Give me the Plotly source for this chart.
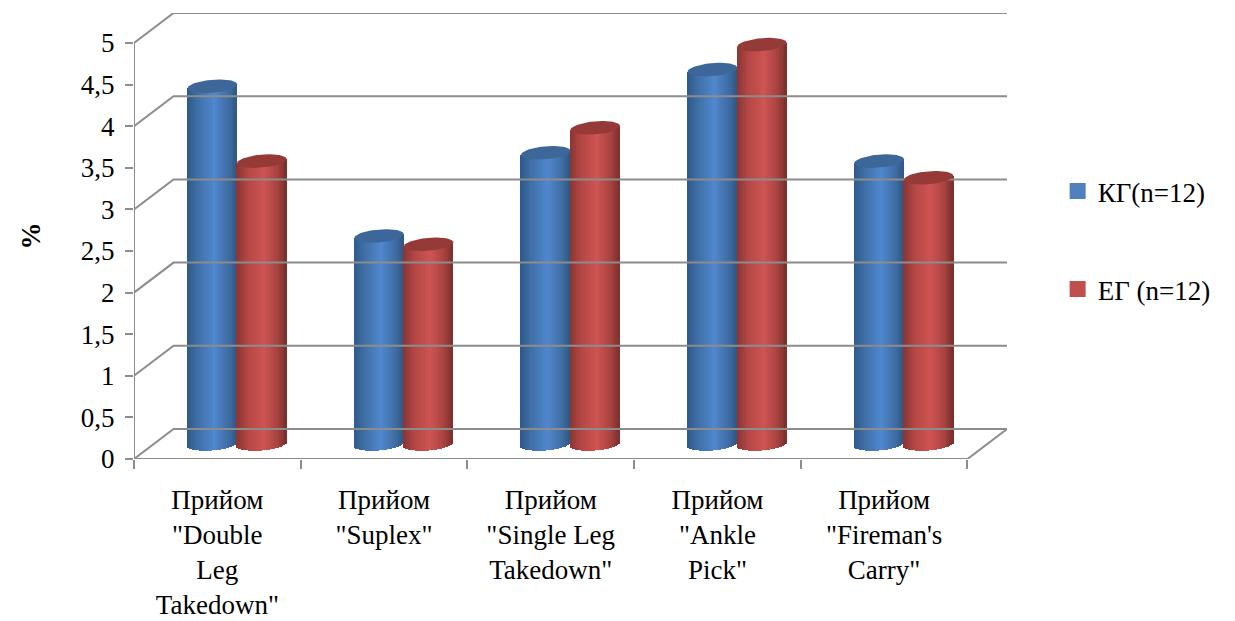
import numpy as np
import plotly.graph_objects as go

# Chart values
categories = [
    'Прийом<br>"Double<br>Leg<br>Takedown"',
    'Прийом<br>"Suplex"',
    'Прийом<br>"Single Leg<br>Takedown"',
    'Прийом<br>"Ankle<br>Pick"',
    'Прийом<br>"Fireman\'s<br>Carry"',
]
kg_values = [4.3, 2.5, 3.5, 4.5, 3.4]
eg_values = [3.4, 2.4, 3.8, 4.8, 3.2]
y_ticks = [0, 0.5, 1, 1.5, 2, 2.5, 3, 3.5, 4, 4.5, 5]
y_tick_labels = ["0", "0,5", "1", "1,5", "2", "2,5", "3", "3,5", "4", "4,5", "5"]

FONT = "Liberation Serif, Times New Roman, serif"
GRID = "#8c8c8c"

# Oblique projection of the chart box, in axis units
DEPTH_X = 0.2372
DEPTH_Y = 0.3606
BAR_WIDTH = 0.297
CAP_B = 0.078      # vertical semi-axis of the cylinder ellipse
CAP_SKEW = 0.024   # tilt of the ellipse

BLUE_STOPS = [(-1, "#2d5a8a"), (-0.55, "#4170a8"), (0.1, "#5088ce"), (0.7, "#3f6ca2"), (1, "#2e5884")]
RED_STOPS = [(-1, "#8a3634"), (-0.5, "#b64846"), (0.1, "#ce5553"), (0.65, "#a84341"), (1, "#7a2f2d")]


def shade(stops, u):
    pos = [s[0] for s in stops]
    rgb = np.array([[int(s[1][i:i + 2], 16) for i in (1, 3, 5)] for s in stops])
    return "rgb(%d,%d,%d)" % tuple(np.interp(u, pos, rgb[:, k]) for k in range(3))


def cylinder(fig, center, value, stops, cap_color):
    """Draw one cylinder: shaded side as narrow bars, then the top ellipse."""
    cx = center + DEPTH_X / 2
    a = BAR_WIDTH / 2
    n = 30
    edges = np.linspace(-1, 1, n + 1)
    mids = (edges[:-1] + edges[1:]) / 2
    floor_y = DEPTH_Y / 2
    top_y = value + DEPTH_Y / 2
    base = floor_y - CAP_B * np.sqrt(1 - mids ** 2) + CAP_SKEW * mids
    top = top_y + CAP_SKEW * mids
    fig.add_trace(go.Bar(
        x=cx + mids * a,
        y=top - base,
        base=base,
        width=[2 * a / n * 1.15] * n,
        marker=dict(color=[shade(stops, u) for u in mids], line=dict(width=0)),
        showlegend=False,
        hoverinfo="skip",
    ))
    t = np.linspace(0, 2 * np.pi, 73)
    fig.add_trace(go.Scatter(
        x=cx + a * np.cos(t),
        y=top_y + CAP_B * np.sin(t) + CAP_SKEW * np.cos(t),
        mode="lines",
        fill="toself",
        fillcolor=cap_color,
        line=dict(width=0, color=cap_color),
        showlegend=False,
        hoverinfo="skip",
    ))


fig = go.Figure()

# Box: left wall diagonals, back wall lines, floor edges and the value axis
n_cat = len(categories)
wall_x, wall_y = [0, 0, None], [0, y_ticks[-1], None]
for v in y_ticks[::2]:
    wall_x += [0, DEPTH_X, n_cat + DEPTH_X, None]
    wall_y += [v, v + DEPTH_Y, v + DEPTH_Y, None]
wall_x += [0, n_cat, n_cat + DEPTH_X]
wall_y += [0, 0, DEPTH_Y]
fig.add_trace(go.Scatter(
    x=wall_x, y=wall_y, mode="lines",
    line=dict(color=GRID, width=2),
    showlegend=False, hoverinfo="skip", cliponaxis=False,
))

for i in range(n_cat):
    cylinder(fig, i + 0.5 - BAR_WIDTH / 2, kg_values[i], BLUE_STOPS, "#3c6798")
    cylinder(fig, i + 0.5 + BAR_WIDTH / 2, eg_values[i], RED_STOPS, "#963a38")

# Legend entries
for name, color in (("КГ(n=12)", "#4f81bd"), ("ЕГ (n=12)", "#c0504d")):
    fig.add_trace(go.Scatter(
        x=[None], y=[None], mode="markers", name=name, legendgroup=name,
        marker=dict(symbol="square", size=16, color=color, line=dict(width=0)),
    ))

fig.update_layout(
    width=1235,
    height=621,
    margin=dict(l=133.5, r=228.3, t=13, b=162, autoexpand=False),
    paper_bgcolor="white",
    plot_bgcolor="white",
    barmode="overlay",
    bargap=0,
    font=dict(family=FONT, size=27, color="black"),
    legend=dict(
        x=1.058, y=0.49, xanchor="left", yanchor="middle",
        tracegroupgap=60, font=dict(family=FONT, size=27, color="black"),
        itemwidth=30, bgcolor="rgba(0,0,0,0)",
    ),
    xaxis=dict(
        range=[0, n_cat + DEPTH_X],
        tickmode="array",
        tickvals=[i + 0.5 for i in range(n_cat)],
        ticktext=categories,
        ticks="",
        ticklabelstandoff=22,
        showgrid=False,
        zeroline=False,
        showline=False,
        minor=dict(
            tickmode="array", tickvals=list(range(n_cat + 1)),
            ticks="outside", ticklen=9, tickwidth=2, tickcolor=GRID, showgrid=False,
        ),
        tickfont=dict(family=FONT, size=27, color="black"),
    ),
    yaxis=dict(
        range=[0, y_ticks[-1] + DEPTH_Y],
        tickmode="array",
        tickvals=y_ticks,
        ticktext=y_tick_labels,
        ticks="outside",
        ticklen=8,
        tickwidth=2,
        tickcolor=GRID,
        ticklabelstandoff=5,
        showgrid=False,
        zeroline=False,
        showline=False,
        tickfont=dict(family=FONT, size=27, color="black"),
        title=dict(text="<b>%</b>", font=dict(family=FONT, size=27, color="black"), standoff=32),
    ),
)

fig.write_html("out.html")
